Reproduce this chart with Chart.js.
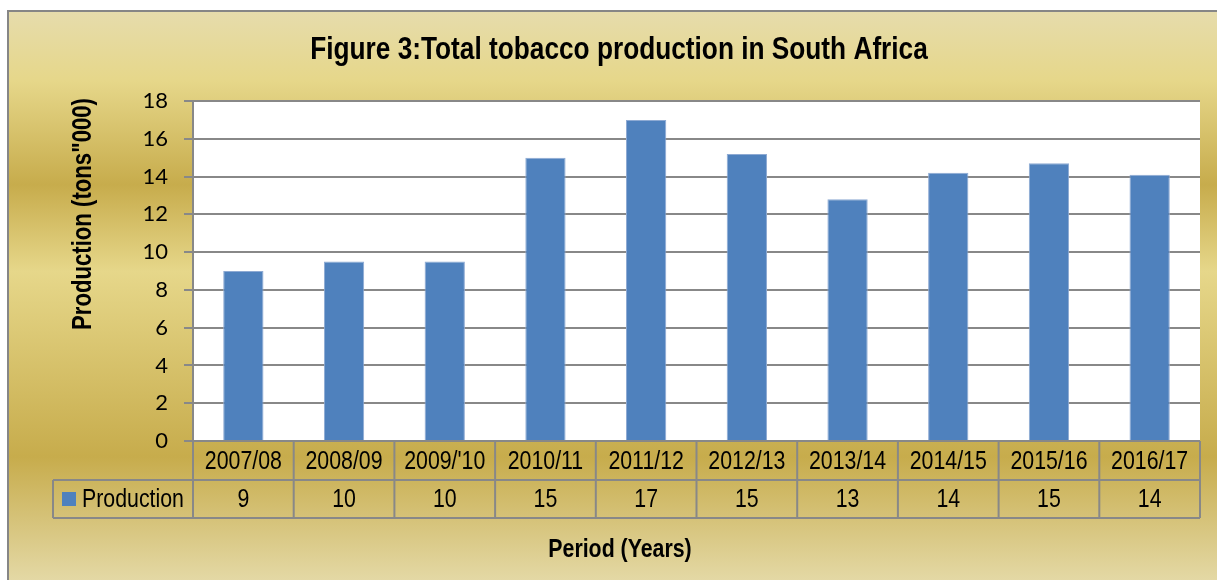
<!DOCTYPE html>
<html>
<head>
<meta charset="utf-8">
<script src="https://cdn.jsdelivr.net/npm/chart.js@4.4.1/dist/chart.umd.min.js"></script>
<style>
  html, body { margin: 0; padding: 0; background: #fff; }
  #wrap { width: 1217px; height: 580px; }
</style>
</head>
<body>
<div id="wrap"><canvas id="chart"></canvas></div>
<script>
// dados
const categories = ["2007/08", "2008/09", "2009/'10", "2010/11", "2011/12", "2012/13", "2013/14", "2014/15", "2015/16", "2016/17"];
const production = [9.0, 9.5, 9.5, 15.0, 17.0, 15.2, 12.8, 14.2, 14.7, 14.1];
const yTicks = [0, 2, 4, 6, 8, 10, 12, 14, 16, 18];
const seriesName = "Production";
const chartTitle = "Figure 3:Total tobacco production in South Africa";
const yTitle = 'Production (tons"000)';
const xTitle = "Period (Years)";

// sem fonte "narrow" instalada: comprime a Liberation Sans na horizontal
const sans = "'Liberation Sans', Arial, sans-serif";
const aperto = 0.82;
const gridCor = "#888888";
const barCor = "#4f81bd";

function textoEstreito(ctx, txt, x, y, font, align, rot) {
    ctx.save();
    ctx.translate(x, y);
    if (rot) ctx.rotate(rot);
    ctx.scale(aperto, 1);
    ctx.font = font;
    ctx.textAlign = align;
    ctx.textBaseline = "middle";
    ctx.fillStyle = "#000";
    ctx.fillText(txt, 0, 0);
    ctx.restore();
}

// fundo dourado + area branca do grafico
const fundo = {
    id: 'fundo',
    beforeDraw(chart) {
        const { ctx, chartArea: a, width, height } = chart;
        ctx.save();
        ctx.fillStyle = "#fff";
        ctx.fillRect(0, 0, width, height);
        const g = ctx.createLinearGradient(0, 11, 0, 590);
        g.addColorStop(0, "#e6dcac");
        g.addColorStop(0.12, "#e6d78a");
        g.addColorStop(0.30, "#c7ac4c");
        g.addColorStop(0.45, "#e6d78a");
        g.addColorStop(0.77, "#c7ac4c");
        g.addColorStop(1, "#e6dcac");
        ctx.fillStyle = g;
        ctx.fillRect(8, 11, width - 8, height - 11);
        ctx.strokeStyle = "#868686";
        ctx.lineWidth = 2;
        ctx.beginPath();
        ctx.moveTo(8, height);
        ctx.lineTo(8, 11);
        ctx.lineTo(width, 11);
        ctx.stroke();
        ctx.fillStyle = "#fff";
        ctx.fillRect(a.left, a.top, a.right - a.left, a.bottom - a.top);
        ctx.restore();
    }
};

// titulos + tabela de dados embaixo do eixo x
const tabela = {
    id: 'tabela',
    afterDraw(chart) {
        const { ctx, chartArea: a, scales: { x } } = chart;
        const n = categories.length;
        const colW = (a.right - a.left) / n;
        const r1 = a.bottom, r2 = a.bottom + 39, r3 = a.bottom + 77;
        const legL = 53;
        ctx.save();
        ctx.strokeStyle = gridCor;
        ctx.lineWidth = 2;
        ctx.beginPath();
        ctx.moveTo(legL, r2); ctx.lineTo(a.right, r2);
        ctx.moveTo(legL, r3); ctx.lineTo(a.right, r3);
        ctx.moveTo(legL, r2); ctx.lineTo(legL, r3);
        for (let i = 0; i <= n; i++) {
            const xx = a.left + i * colW;
            ctx.moveTo(xx, r1); ctx.lineTo(xx, r3);
        }
        ctx.stroke();

        const f = "26px " + sans;
        categories.forEach((c, i) => {
            const cx = x.getPixelForValue(i);
            textoEstreito(ctx, c, cx, (r1 + r2) / 2 + 1, f, "center");
            textoEstreito(ctx, production[i].toFixed(0), cx, (r2 + r3) / 2 + 1, f, "center");
        });

        // legenda
        ctx.fillStyle = barCor;
        ctx.fillRect(62, (r2 + r3) / 2 - 7, 14, 14);
        textoEstreito(ctx, seriesName, 82, (r2 + r3) / 2 + 1, f, "left");

        // titulos
        textoEstreito(ctx, chartTitle, 619, 50, "bold 32px " + sans, "center");
        textoEstreito(ctx, xTitle, 620, 550, "bold 26px " + sans, "center");
        textoEstreito(ctx, yTitle, 84, 214, "bold 27px " + sans, "center", -Math.PI / 2);
        ctx.restore();
    }
};

new Chart(document.getElementById("chart"), {
    type: 'bar',
    data: {
        labels: categories,
        datasets: [{
            label: seriesName,
            data: production,
            backgroundColor: barCor,
            borderColor: "#8eaad3",
            borderWidth: 1,
            categoryPercentage: 1,
            barPercentage: 0.4
        }]
    },
    options: {
        responsive: true,
        maintainAspectRatio: false,
        animation: false,
        devicePixelRatio: 1,
        layout: { padding: { left: 0, right: 17, top: 101, bottom: 0 } },
        plugins: {
            legend: { display: false },
            tooltip: { enabled: false },
            title: { display: false }
        },
        scales: {
            x: {
                grid: { display: false },
                border: { display: false },
                ticks: { display: false },
                afterFit: s => { s.height = 139; }
            },
            y: {
                min: 0,
                max: 18,
                afterBuildTicks: s => { s.ticks = yTicks.map(v => ({ value: v })); },
                ticks: {
                    color: "#000",
                    padding: 16,
                    font: { family: "Lato, sans-serif", size: 22 }
                },
                grid: { color: gridCor, lineWidth: 2, tickLength: 9 },
                border: { color: gridCor, width: 2 },
                afterFit: s => { s.width = 193; }
            }
        }
    },
    plugins: [fundo, tabela]
});
</script>
</body>
</html>
